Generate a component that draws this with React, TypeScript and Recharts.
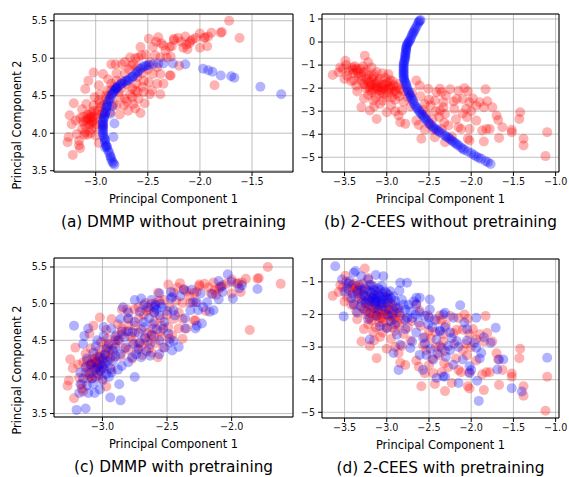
import React from 'react';
import { ScatterChart, Scatter, XAxis, YAxis, CartesianGrid, ReferenceArea } from 'recharts';

type Pt = [number, number];

// DMMP red points (same in panels a and c)
const redDmmp: Pt[] = [
  [-3.27, 3.88], [-3.26, 3.95], [-3.22, 3.71], [-3.16, 3.84], [-3.15, 3.8], [-3.16, 3.9], [-3.23, 4.12], [-3.25, 4.24],
  [-3.21, 4.4], [-3.18, 3.99], [-3.13, 4.06], [-3.1, 4.01], [-3.09, 4.17], [-3.05, 4.21], [-3.07, 4.12], [-3.02, 4.17],
  [-3.04, 4.28], [-3.01, 4.08], [-3.13, 4.32], [-3.09, 4.39], [-3.02, 4.37], [-2.97, 4.44], [-2.96, 4.52], [-3.01, 4.48],
  [-3.1, 4.59], [-3.07, 4.7], [-3.02, 4.81], [-2.93, 4.79], [-2.97, 4.64], [-2.89, 4.57], [-2.85, 4.66], [-2.88, 4.72],
  [-2.97, 3.87], [-3.05, 4.0], [-3.08, 3.98], [-3.12, 4.15], [-3.06, 4.25], [-3.03, 4.15], [-2.99, 4.2], [-2.98, 4.3],
  [-3.08, 4.2], [-3.0, 4.12], [-3.04, 4.05], [-2.95, 4.35], [-2.94, 4.25], [-3.15, 4.2], [-3.19, 4.17], [-3.11, 3.98],
  [-3.0, 3.97], [-2.93, 4.1],
  [-3.06, 4.18], [-3.03, 4.22], [-3.08, 4.25], [-3.1, 4.1], [-3.02, 4.3], [-2.99, 4.25], [-3.12, 4.22], [-3.05, 4.12],
  [-2.96, 4.4], [-2.9, 4.5], [-2.85, 4.58], [-2.8, 4.7], [-2.72, 4.8], [-2.66, 4.9], [-2.6, 4.88],
  [-2.85, 4.92], [-2.81, 4.92], [-2.75, 4.92], [-2.72, 4.95], [-2.67, 5.01], [-2.64, 4.92], [-2.59, 5.01], [-2.56, 5.04],
  [-2.57, 5.15], [-2.49, 5.26], [-2.4, 5.28], [-2.45, 5.15], [-2.35, 5.17], [-2.29, 5.15], [-2.25, 5.26], [-2.43, 5.04],
  [-2.38, 5.01], [-2.32, 5.01], [-2.29, 4.77], [-2.35, 4.66], [-2.38, 4.79], [-2.45, 4.79], [-2.41, 4.88], [-2.54, 4.7],
  [-2.61, 4.66], [-2.62, 4.57], [-2.54, 4.55], [-2.59, 4.46], [-2.64, 4.39], [-2.72, 4.46], [-2.69, 4.3], [-2.57, 4.27],
  [-2.67, 4.52], [-2.77, 4.48], [-2.8, 4.37], [-2.86, 4.28], [-2.93, 4.28], [-2.83, 4.39], [-2.73, 4.37], [-2.48, 4.52],
  [-2.38, 4.52], [-2.46, 4.57], [-2.41, 4.66], [-2.49, 4.68], [-2.78, 4.55], [-2.75, 4.6], [-2.7, 4.65], [-2.65, 4.6],
  [-2.6, 4.75], [-2.55, 4.8], [-2.5, 4.85], [-2.48, 4.95], [-2.52, 5.05], [-2.62, 5.0], [-2.68, 4.85], [-2.8, 4.8],
  [-2.75, 4.7], [-2.82, 4.62], [-2.9, 4.45], [-2.87, 4.5], [-2.92, 4.38], [-2.7, 4.42], [-2.65, 4.48], [-2.6, 4.55],
  [-2.55, 4.62], [-2.53, 4.4], [-2.62, 4.33], [-2.77, 4.25],
  [-2.28, 5.02], [-2.27, 5.16], [-2.25, 5.24], [-2.21, 5.27], [-2.2, 4.9], [-2.16, 5.14], [-2.14, 5.29], [-2.12, 5.12],
  [-2.1, 5.2], [-2.09, 5.23], [-2.07, 5.25], [-2.0, 5.33], [-2.0, 5.14], [-1.96, 5.27], [-1.95, 5.28], [-1.93, 5.16],
  [-1.92, 5.29], [-1.89, 5.34], [-1.8, 5.34], [-1.79, 5.35], [-1.72, 5.5], [-1.62, 5.27], [-1.86, 4.64], [-2.28, 4.77],
  [-2.33, 5.1], [-2.37, 5.2], [-2.42, 5.22], [-2.18, 5.22], [-2.13, 5.18], [-2.04, 5.27],
];

// DMMP blue, without pretraining (curve)
const blueDmmpNo: Pt[] = [
  [-2.82, 3.58], [-2.83, 3.6], [-2.84, 3.62], [-2.85, 3.65], [-2.855, 3.68], [-2.86, 3.7], [-2.87, 3.74], [-2.88, 3.77],
  [-2.89, 3.81], [-2.895, 3.83], [-2.9, 3.84], [-2.91, 3.88], [-2.91, 3.91], [-2.915, 3.93], [-2.92, 3.95], [-2.93, 3.98],
  [-2.93, 4.01], [-2.93, 4.04], [-2.93, 4.06], [-2.93, 4.08], [-2.93, 4.11], [-2.93, 4.13], [-2.93, 4.15], [-2.93, 4.18],
  [-2.92, 4.2], [-2.92, 4.22], [-2.91, 4.25], [-2.91, 4.27], [-2.9, 4.3], [-2.9, 4.34], [-2.89, 4.36], [-2.89, 4.38],
  [-2.88, 4.42], [-2.87, 4.45], [-2.86, 4.47], [-2.85, 4.51], [-2.84, 4.53], [-2.83, 4.55], [-2.82, 4.57], [-2.81, 4.59],
  [-2.8, 4.6], [-2.79, 4.62], [-2.77, 4.64], [-2.755, 4.66], [-2.74, 4.67], [-2.72, 4.69], [-2.7, 4.7], [-2.69, 4.71],
  [-2.67, 4.73], [-2.65, 4.75], [-2.64, 4.76], [-2.62, 4.79], [-2.6, 4.81], [-2.59, 4.83], [-2.57, 4.86], [-2.55, 4.88],
  [-2.53, 4.9], [-2.51, 4.9], [-2.49, 4.91], [-2.45, 4.92], [-2.4, 4.93], [-2.35, 4.93], [-2.26, 4.93], [-2.14, 4.92],
  [-1.97, 4.86], [-1.92, 4.84], [-1.88, 4.82], [-1.8, 4.77], [-1.7, 4.76], [-1.67, 4.74], [-1.42, 4.62], [-1.22, 4.52],
  [-2.82, 4.13], [-2.84, 4.36], [-2.86, 4.26], [-2.91, 3.81], [-2.83, 3.95], [-2.8, 4.6],
];

// DMMP blue, with pretraining (cloud)
const blueDmmpPre: Pt[] = [
  [-3.2, 3.55], [-3.13, 3.57], [-3.22, 4.7], [-3.14, 4.56], [-3.11, 4.66], [-3.18, 3.78], [-3.17, 3.9], [-3.12, 3.88],
  [-3.07, 3.9], [-3.06, 3.78], [-3.11, 3.78], [-3.02, 3.83], [-2.94, 3.72], [-2.86, 3.68], [-2.87, 3.9], [-2.75, 4.0],
  [-3.17, 4.06], [-3.13, 4.13], [-3.09, 4.17], [-3.04, 4.13], [-2.99, 4.11], [-2.97, 4.04], [-2.93, 4.06], [-3.02, 4.27],
  [-3.07, 4.33], [-2.98, 4.31], [-2.92, 4.22], [-2.85, 4.15], [-2.86, 4.31], [-2.9, 4.4], [-2.95, 4.45], [-3.04, 4.5],
  [-2.99, 4.56], [-2.99, 4.68], [-2.93, 4.66], [-2.86, 4.79], [-2.84, 4.95], [-2.8, 4.79], [-2.75, 4.75], [-2.77, 4.61],
  [-2.83, 4.54], [-2.76, 4.45], [-2.71, 4.47], [-2.67, 4.54], [-2.63, 4.45], [-2.74, 4.31], [-2.77, 4.27], [-2.7, 4.27],
  [-2.63, 4.29], [-2.56, 4.5], [-2.56, 4.31], [-2.52, 4.4], [-2.48, 4.47], [-2.49, 4.59], [-2.53, 4.66], [-2.61, 4.72],
  [-2.68, 4.75], [-2.71, 4.89], [-2.65, 4.95], [-2.59, 4.98], [-2.56, 4.84], [-2.75, 5.05], [-2.7, 5.07], [-2.56, 5.14],
  [-2.47, 5.16], [-2.47, 5.07], [-2.44, 4.84],
  [-2.03, 5.4], [-2.0, 5.3], [-1.92, 5.25], [-1.94, 5.21], [-1.8, 5.2], [-1.99, 5.07], [-2.1, 5.31], [-2.08, 5.23],
  [-2.07, 5.16], [-2.1, 5.06], [-2.15, 5.13], [-2.19, 5.02], [-2.17, 4.89], [-2.14, 4.91], [-2.22, 4.95], [-2.26, 4.91],
  [-2.27, 5.02], [-2.24, 5.14], [-2.3, 5.02], [-2.32, 4.91], [-2.36, 4.8], [-2.23, 4.73], [-2.27, 4.7], [-2.28, 4.66],
  [-2.36, 4.66], [-2.4, 5.1], [-2.37, 5.19], [-2.46, 5.09], [-2.45, 4.91], [-2.41, 4.41], [-2.46, 4.36], [-2.45, 4.49],
  [-2.31, 5.19],
  [-3.1, 4.05], [-3.05, 4.2], [-3.0, 4.15], [-2.96, 4.22], [-3.08, 3.98], [-3.15, 3.98], [-3.0, 3.95], [-2.95, 4.0],
  [-3.03, 4.02], [-2.92, 4.35], [-2.88, 4.5], [-2.82, 4.4], [-2.8, 4.62], [-2.72, 4.6], [-2.68, 4.68], [-2.64, 4.8],
  [-2.6, 4.88], [-2.58, 4.92], [-2.54, 4.95], [-2.5, 4.9], [-2.62, 4.58], [-2.58, 4.65], [-2.66, 4.35], [-2.72, 4.38],
  [-2.8, 4.2], [-2.88, 4.1], [-2.6, 4.95], [-2.55, 5.0], [-2.62, 5.05], [-2.68, 4.98], [-2.8, 4.88], [-2.52, 4.75],
  [-2.85, 4.62], [-2.9, 4.55], [-2.97, 4.38], [-3.12, 4.25], [-3.05, 4.42], [-3.15, 4.45],
  [-3.02, 4.08], [-2.98, 4.18], [-3.06, 4.1], [-2.94, 4.12], [-3.0, 4.25], [-2.9, 4.28],
];

// 2-CEES red points (same in panels b and d)
const redCees: Pt[] = [
  [-3.64, -1.43], [-3.57, -1.31], [-3.49, -0.81], [-3.52, -1.17], [-3.47, -1.46], [-3.41, -1.1], [-3.39, -1.67], [-3.35, -1.24],
  [-3.31, -1.17], [-3.26, -0.59], [-3.22, -0.88], [-3.3, -1.46], [-3.24, -1.6], [-3.28, -1.82], [-3.2, -1.75], [-3.14, -1.82],
  [-3.12, -2.03], [-3.18, -2.18], [-3.06, -2.11], [-3.3, -2.83], [-3.2, -2.97], [-3.12, -3.34], [-3.08, -2.69], [-3.16, -2.54],
  [-3.0, -2.4], [-2.98, -2.03], [-2.92, -1.89], [-2.86, -1.82], [-2.88, -2.25], [-2.94, -2.4], [-2.82, -2.97], [-2.86, -3.19],
  [-2.78, -3.55], [-2.84, -3.48], [-2.65, -1.67], [-2.61, -1.89], [-2.51, -2.03], [-2.41, -2.18], [-2.37, -2.03], [-2.43, -2.54],
  [-2.37, -2.97], [-2.55, -2.69], [-2.65, -3.41], [-2.59, -4.2], [-2.43, -4.13], [-2.35, -3.77],
  [-3.45, -1.25], [-3.4, -1.35], [-3.38, -1.05], [-3.33, -1.5], [-3.36, -1.9], [-3.27, -1.3], [-3.25, -2.0], [-3.22, -1.45],
  [-3.2, -1.95], [-3.18, -1.6], [-3.16, -2.05], [-3.15, -1.4], [-3.12, -1.75], [-3.1, -1.95], [-3.09, -2.25], [-3.08, -1.6],
  [-3.05, -1.85], [-3.03, -2.0], [-3.02, -1.55], [-3.0, -1.8], [-2.98, -2.2], [-2.96, -1.65], [-2.95, -2.05], [-2.93, -1.7],
  [-2.9, -2.1], [-2.9, -2.5], [-3.05, -2.55], [-3.13, -2.4], [-3.22, -2.3], [-3.27, -2.45], [-3.35, -2.15], [-3.42, -1.7],
  [-3.48, -1.0], [-3.55, -1.1], [-3.5, -1.6], [-3.28, -1.05], [-3.18, -1.1], [-3.12, -1.3], [-3.05, -1.35], [-2.98, -1.4],
  [-2.85, -2.35], [-2.8, -2.6], [-2.8, -2.15], [-2.75, -2.4], [-2.72, -2.8], [-2.7, -2.2], [-2.95, -2.75], [-3.0, -3.05],
  [-2.9, -3.0], [-2.84, -2.05], [-3.15, -2.8], [-2.6, -2.35], [-2.57, -2.95], [-2.53, -3.1], [-2.5, -2.5], [-2.48, -2.75],
  [-2.46, -3.35], [-2.42, -3.0], [-2.38, -3.25], [-2.33, -2.6], [-2.62, -3.6], [-2.55, -3.8], [-2.5, -3.55], [-2.45, -3.8],
  [-2.32, -3.5],
  [-3.22, -1.7], [-3.18, -1.85], [-3.14, -1.95], [-3.1, -1.7], [-3.06, -1.98], [-3.02, -1.88], [-2.98, -1.75], [-2.96, -1.95],
  [-3.26, -1.85], [-3.3, -1.65], [-3.34, -1.35], [-3.2, -2.1], [-3.08, -2.1], [-2.92, -2.15], [-3.16, -1.5], [-3.4, -1.2],
  [-3.36, -1.15], [-3.24, -1.25], [-2.88, -1.95], [-3.04, -2.25],
  [-2.35, -2.18], [-2.3, -2.32], [-2.33, -2.83], [-2.31, -3.12], [-2.27, -3.62], [-2.31, -4.35], [-2.21, -2.58], [-2.17, -2.47],
  [-2.15, -2.11], [-2.1, -2.47], [-2.04, -2.14], [-2.02, -2.61], [-2.06, -2.9], [-2.05, -3.26], [-2.15, -3.7], [-2.12, -3.77],
  [-2.02, -3.77], [-2.02, -4.27], [-2.04, -4.2], [-1.94, -2.76], [-1.94, -3.41], [-1.9, -2.61], [-1.85, -2.83], [-1.81, -2.57],
  [-1.75, -2.83], [-1.83, -2.05], [-1.87, -3.84], [-1.85, -4.32], [-1.82, -3.77], [-1.78, -3.77], [-1.7, -3.19], [-1.68, -3.38],
  [-1.67, -4.16], [-1.63, -3.7], [-1.52, -3.81], [-1.52, -3.91], [-1.43, -3.34], [-1.42, -3.05], [-1.38, -4.2], [-1.38, -4.49],
  [-1.1, -3.91], [-1.12, -4.95],
  [-2.25, -2.05], [-2.2, -2.9], [-2.1, -3.1], [-2.18, -3.35], [-2.08, -2.0], [-2.0, -3.0], [-1.98, -2.45], [-2.23, -4.1],
];

// 2-CEES blue, without pretraining (curve)
const blueCeesNo: Pt[] = [
  [-2.6, 0.96], [-2.61, 0.92], [-2.62, 0.88], [-2.63, 0.81], [-2.645, 0.7], [-2.66, 0.6], [-2.67, 0.52], [-2.68, 0.45],
  [-2.69, 0.38], [-2.7, 0.32], [-2.71, 0.22], [-2.72, 0.13], [-2.73, 0.06], [-2.74, 0.0], [-2.75, -0.05], [-2.76, -0.11],
  [-2.765, -0.18], [-2.77, -0.25], [-2.77, -0.31], [-2.77, -0.37], [-2.775, -0.45], [-2.78, -0.52], [-2.78, -0.59], [-2.78, -0.66],
  [-2.785, -0.73], [-2.79, -0.8], [-2.795, -0.88], [-2.8, -0.95], [-2.8, -1.02], [-2.8, -1.1], [-2.8, -1.17], [-2.8, -1.24],
  [-2.8, -1.31], [-2.8, -1.38], [-2.8, -1.45], [-2.8, -1.53], [-2.795, -1.6], [-2.79, -1.67], [-2.78, -1.75], [-2.77, -1.82],
  [-2.765, -1.91], [-2.76, -2.0], [-2.75, -2.09], [-2.74, -2.18], [-2.73, -2.25], [-2.72, -2.33], [-2.71, -2.4], [-2.7, -2.47],
  [-2.69, -2.56], [-2.68, -2.65], [-2.665, -2.74], [-2.65, -2.83], [-2.635, -2.9], [-2.62, -2.98], [-2.605, -3.05], [-2.59, -3.12],
  [-2.575, -3.18], [-2.56, -3.25], [-2.545, -3.32], [-2.53, -3.38], [-2.51, -3.46], [-2.49, -3.55], [-2.47, -3.62], [-2.45, -3.7],
  [-2.43, -3.75], [-2.41, -3.8], [-2.39, -3.86], [-2.37, -3.91], [-2.34, -3.98], [-2.31, -4.06], [-2.29, -4.11], [-2.27, -4.16],
  [-2.25, -4.22], [-2.23, -4.27], [-2.21, -4.33], [-2.19, -4.38], [-2.17, -4.44], [-2.15, -4.49], [-2.12, -4.58], [-2.1, -4.63],
  [-2.08, -4.68], [-2.04, -4.75], [-2.0, -4.82], [-1.97, -4.9], [-1.94, -4.97], [-1.91, -5.02], [-1.88, -5.07], [-1.83, -5.17],
  [-1.8, -5.22], [-1.77, -5.29],
];

// 2-CEES blue, with pretraining (cloud)
const blueCeesPre: Pt[] = [
  [-3.61, -0.52], [-3.51, -2.06], [-3.53, -0.93], [-3.39, -0.72], [-3.37, -0.67], [-3.44, -0.98], [-3.3, -0.83], [-3.22, -0.93],
  [-3.13, -0.79], [-3.04, -0.83], [-3.06, -1.13], [-2.84, -1.03], [-2.76, -1.03], [-2.85, -1.27], [-3.47, -1.18], [-3.35, -1.29],
  [-3.28, -1.39], [-3.2, -1.29], [-3.16, -1.44], [-3.1, -1.39], [-3.0, -1.49], [-2.96, -1.29], [-3.08, -1.7], [-3.16, -1.8],
  [-3.24, -1.9], [-3.31, -1.75], [-3.39, -1.7], [-2.9, -1.59], [-2.8, -1.7], [-2.74, -1.7], [-2.65, -1.49], [-2.61, -1.49],
  [-2.49, -1.54], [-2.65, -1.7], [-2.61, -1.95], [-2.7, -2.11], [-2.78, -2.16], [-2.9, -2.31], [-3.0, -2.42], [-3.08, -2.36],
  [-3.2, -2.77], [-2.88, -2.62], [-2.84, -2.93], [-2.72, -3.03], [-2.92, -3.18], [-2.86, -3.7], [-2.57, -3.7], [-2.61, -3.24],
  [-2.53, -3.24], [-2.45, -3.39], [-2.49, -1.85], [-2.43, -2.16], [-2.51, -2.31], [-2.33, -2.0], [-2.37, -2.52], [-2.57, -2.72],
  [-2.7, -2.83], [-2.41, -2.77], [-2.41, -3.95], [-2.33, -3.9], [-3.0, -2.0], [-2.76, -2.11],
  [-2.13, -1.72], [-2.31, -1.95], [-2.08, -2.25], [-1.94, -2.1], [-1.71, -2.41], [-2.37, -2.49], [-2.31, -2.39], [-2.23, -2.72],
  [-2.17, -2.82], [-2.27, -2.97], [-2.35, -3.02], [-2.1, -3.38], [-2.02, -3.59], [-1.94, -3.02], [-1.88, -3.18], [-1.77, -2.87],
  [-1.67, -3.38], [-1.62, -3.38], [-1.69, -3.69], [-2.02, -3.8], [-1.93, -4.03], [-2.15, -4.1], [-2.21, -3.54], [-2.31, -3.9],
  [-1.52, -4.26], [-1.4, -4.36], [-1.91, -4.65], [-1.1, -3.33], [-2.21, -2.1], [-1.96, -2.87],
  [-3.45, -1.05], [-3.4, -1.4], [-3.33, -1.1], [-3.3, -1.55], [-3.26, -1.2], [-3.25, -1.65], [-3.22, -1.55], [-3.2, -1.1],
  [-3.18, -1.5], [-3.15, -1.25], [-3.14, -1.65], [-3.12, -1.5], [-3.1, -1.2], [-3.08, -1.45], [-3.06, -1.55], [-3.05, -1.75],
  [-3.02, -1.3], [-3.0, -1.65], [-2.98, -1.85], [-2.95, -1.5], [-2.93, -2.0], [-2.88, -1.8], [-2.85, -1.95], [-2.82, -1.55],
  [-2.78, -1.85], [-2.72, -1.9], [-2.68, -1.6], [-2.66, -2.0], [-2.62, -2.25], [-2.55, -2.05], [-2.5, -2.1], [-2.46, -2.4],
  [-2.95, -2.2], [-3.12, -2.05], [-3.22, -2.15], [-3.35, -1.95], [-3.42, -1.5], [-3.5, -1.3], [-2.78, -2.45], [-2.65, -2.55],
  [-2.55, -2.9], [-2.48, -3.05], [-2.4, -3.2], [-2.3, -3.3], [-2.25, -3.1], [-2.15, -3.0], [-2.05, -2.8], [-2.0, -3.7],
  [-1.9, -3.35], [-1.85, -2.7], [-2.05, -2.45], [-2.25, -2.55],
  [-3.18, -1.35], [-3.12, -1.6], [-3.08, -1.25], [-3.04, -1.45], [-3.0, -1.35], [-3.14, -1.55], [-3.2, -1.6], [-3.06, -1.65],
  [-3.1, -1.85], [-3.26, -1.45], [-2.98, -1.55], [-2.92, -1.45], [-3.16, -1.15], [-3.3, -1.25], [-2.9, -1.75],
];

const dmmpXTicksA = [-3.0, -2.5, -2.0, -1.5];
const dmmpXTicksC = [-3.0, -2.5, -2.0];
const dmmpYTicks = [3.5, 4.0, 4.5, 5.0, 5.5];
const ceesXTicks = [-3.5, -3.0, -2.5, -2.0, -1.5, -1.0];
const ceesYTicksB = [-5, -4, -3, -2, -1, 0, 1];
const ceesYTicksD = [-5, -4, -3, -2, -1];

const FONT = '"DejaVu Sans", sans-serif';
const YAXIS_W = 44;
const XAXIS_H = 20;
const PAD = 2;
const RIGHT = 16;

const fmt = (digits: number) => (v: number) => v.toFixed(digits).replace('-', '\u2212');

const dot = (color: string) => (props: any) => (
  <circle cx={props.cx} cy={props.cy} r={5} fill={color} fillOpacity={0.3} />
);

interface PanelProps {
  left: number;
  top: number;
  width: number;
  height: number;
  xDomain: [number, number];
  yDomain: [number, number];
  xTicks: number[];
  yTicks: number[];
  yDigits: number;
  red: Pt[];
  blue: Pt[];
  caption: string;
  yLabelY?: number;
}

const textStyle = (x: number, y: number, size: number, rotate = false): React.CSSProperties => ({
  position: 'absolute',
  left: x,
  top: y,
  transform: rotate ? 'translate(-50%, -50%) rotate(-90deg)' : 'translate(-50%, -50%)',
  whiteSpace: 'nowrap',
  lineHeight: 1,
  fontSize: size,
  color: '#000',
});

const Panel: React.FC<PanelProps> = (p) => {
  const cx = p.left + p.width / 2;
  const bottom = p.top + p.height;
  const tick = { fontSize: 9.6, fill: '#111', fontFamily: FONT };
  return (
    <>
      <div style={{ position: 'absolute', left: p.left - YAXIS_W, top: p.top - PAD }}>
        <ScatterChart
          width={p.width + YAXIS_W + RIGHT}
          height={p.height + PAD + XAXIS_H}
          margin={{ top: PAD, right: RIGHT, bottom: 0, left: 0 }}
        >
          <CartesianGrid stroke="#b0b0b0" strokeWidth={0.8} />
          <XAxis
            type="number"
            dataKey="x"
            domain={p.xDomain}
            ticks={p.xTicks}
            allowDataOverflow
            interval={0}
            height={XAXIS_H}
            tickSize={4}
            tickMargin={2}
            axisLine={false}
            tickLine={{ stroke: '#000' }}
            tick={tick}
            tickFormatter={fmt(1)}
          />
          <YAxis
            type="number"
            dataKey="y"
            domain={p.yDomain}
            ticks={p.yTicks}
            allowDataOverflow
            interval={0}
            width={YAXIS_W}
            tickSize={4}
            tickMargin={3}
            axisLine={false}
            tickLine={{ stroke: '#000' }}
            tick={tick}
            tickFormatter={fmt(p.yDigits)}
          />
          <Scatter data={p.red.map(([x, y]) => ({ x, y }))} shape={dot('#ff0000')} isAnimationActive={false} />
          <Scatter data={p.blue.map(([x, y]) => ({ x, y }))} shape={dot('#0000ff')} isAnimationActive={false} />
          <ReferenceArea
            x1={p.xDomain[0]}
            x2={p.xDomain[1]}
            y1={p.yDomain[0]}
            y2={p.yDomain[1]}
            fill="none"
            stroke="#000"
            strokeWidth={1}
            ifOverflow="visible"
          />
        </ScatterChart>
      </div>
      <div style={textStyle(cx, bottom + 28, 11.4)}>Principal Component 1</div>
      <div style={textStyle(cx, bottom + 51, 15.3)}>{p.caption}</div>
      {p.yLabelY !== undefined && <div style={textStyle(18, p.yLabelY, 11.4, true)}>Principal Component 2</div>}
    </>
  );
};

const App: React.FC = () => (
  <div
    style={{
      position: 'absolute',
      left: 0,
      top: 0,
      width: 569,
      height: 477,
      background: '#fff',
      fontFamily: FONT,
      overflow: 'hidden',
    }}
  >
    <Panel
      left={54}
      top={14}
      width={239}
      height={158}
      xDomain={[-3.4, -1.107]}
      yDomain={[3.483, 5.59]}
      xTicks={dmmpXTicksA}
      yTicks={dmmpYTicks}
      yDigits={1}
      red={redDmmp}
      blue={blueDmmpNo}
      caption="(a) DMMP without pretraining"
      yLabelY={125}
    />
    <Panel
      left={322}
      top={14}
      width={237}
      height={158}
      xDomain={[-3.767, -0.96]}
      yDomain={[-5.64, 1.217]}
      xTicks={ceesXTicks}
      yTicks={ceesYTicksB}
      yDigits={0}
      red={redCees}
      blue={blueCeesNo}
      caption="(b) 2-CEES without pretraining"
    />
    <Panel
      left={54}
      top={258}
      width={239}
      height={159}
      xDomain={[-3.375, -1.525]}
      yDomain={[3.453, 5.623]}
      xTicks={dmmpXTicksC}
      yTicks={dmmpYTicks}
      yDigits={1}
      red={redDmmp}
      blue={blueDmmpPre}
      caption="(c) DMMP with pretraining"
      yLabelY={370}
    />
    <Panel
      left={322}
      top={259}
      width={237}
      height={159}
      xDomain={[-3.767, -0.96]}
      yDomain={[-5.175, -0.3]}
      xTicks={ceesXTicks}
      yTicks={ceesYTicksD}
      yDigits={0}
      red={redCees}
      blue={blueCeesPre}
      caption="(d) 2-CEES with pretraining"
    />
  </div>
);

export default App;
